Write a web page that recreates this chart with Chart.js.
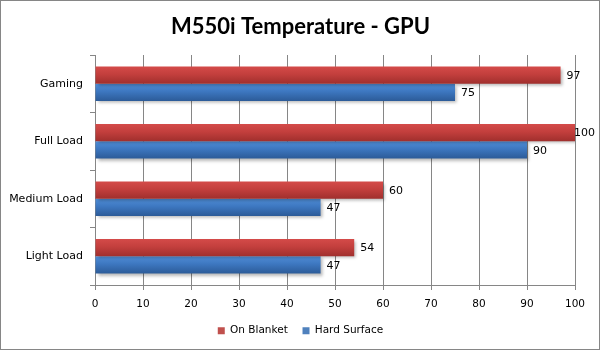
<!DOCTYPE html>
<html>
<head>
<meta charset="utf-8">
<script src="https://cdn.jsdelivr.net/npm/chart.js@4/dist/chart.umd.min.js"></script>
<style>
  html, body { margin: 0; padding: 0; background: #fff; }
  #wrap { width: 601px; height: 351px; position: relative; }
</style>
</head>
<body>
<div id="wrap"><canvas id="c" width="601" height="351"></canvas></div>
<script>
const categories = ["Gaming", "Full Load", "Medium Load", "Light Load"];
const onBlanket = [97, 100, 60, 54];
const hardSurface = [75, 90, 47, 47];
const xTicks = [0, 10, 20, 30, 40, 50, 60, 70, 80, 90, 100];
const seriesNames = ["On Blanket", "Hard Surface"];
const titleText = "M550i Temperature - GPU";

const CAT_PCT = 0.6;
const gradStops = [
  ['#d44b49', '#c33f3d', '#a02f2d'],
  ['#4f8dd6', '#3d77c0', '#2c5b98']
];
const solid = ['#c0504d', '#4f81bd'];

function barGradient(ctx) {
  const chart = ctx.chart;
  const ds = ctx.datasetIndex;
  if (!chart.chartArea || ctx.dataIndex === undefined) return solid[ds];
  const y = chart.scales.y;
  const c = y.getPixelForValue(ctx.dataIndex);
  const cat = y.height / categories.length;
  const h = cat * CAT_PCT / 2;
  const top = ds === 0 ? c - h : c;
  const g = chart.ctx.createLinearGradient(0, top, 0, top + h);
  const s = gradStops[ds];
  g.addColorStop(0, s[0]);
  g.addColorStop(0.45, s[1]);
  g.addColorStop(1, s[2]);
  return g;
}

const framePlugin = {
  id: 'frame',
  beforeDraw(chart) {
    const ctx = chart.ctx;
    ctx.save();
    ctx.fillStyle = '#ffffff';
    ctx.fillRect(0, 0, chart.width, chart.height);
    ctx.restore();
  },
  beforeDatasetsDraw(chart) {
    const ctx = chart.ctx;
    ctx.save();
    ctx.shadowColor = 'rgba(0,0,0,0.28)';
    ctx.shadowOffsetX = 2;
    ctx.shadowOffsetY = 2;
    ctx.shadowBlur = 3;
  },
  afterDatasetsDraw(chart) {
    const ctx = chart.ctx;
    ctx.restore();
    ctx.save();
    ctx.fillStyle = '#000';
    ctx.font = '11px "DejaVu Sans"';
    ctx.textAlign = 'left';
    ctx.textBaseline = 'middle';
    chart.data.datasets.forEach((d, i) => {
      const meta = chart.getDatasetMeta(i);
      meta.data.forEach((el, j) => {
        const txt = String(d.data[j]);
        const w = ctx.measureText(txt).width;
        const x = Math.min(el.x + 6, chart.width - 6 - w);
        ctx.fillText(txt, x, el.y + 1);
      });
    });
    ctx.restore();
  },
  afterDraw(chart) {
    const ctx = chart.ctx;
    ctx.save();
    ctx.strokeStyle = '#868686';
    ctx.lineWidth = 1;
    ctx.strokeRect(0.5, 0.5, chart.width - 2, chart.height - 2);
    ctx.restore();
  }
};

new Chart(document.getElementById('c'), {
  type: 'bar',
  data: {
    labels: categories,
    datasets: [
      { label: seriesNames[0], data: onBlanket, backgroundColor: barGradient, borderWidth: 0 },
      { label: seriesNames[1], data: hardSurface, backgroundColor: barGradient, borderWidth: 0 }
    ]
  },
  options: {
    indexAxis: 'y',
    responsive: false,
    animation: false,
    devicePixelRatio: 1,
    categoryPercentage: CAT_PCT,
    barPercentage: 1.0,
    layout: { padding: { left: 0, right: 0, top: 0, bottom: 5 } },
    plugins: {
      title: {
        display: true,
        text: titleText,
        color: '#000',
        font: { family: 'Lato', size: 22, weight: 'bold', lineHeight: 1.2 },
        padding: { top: 14, bottom: 14.6 }
      },
      legend: {
        position: 'bottom',
        labels: {
          boxWidth: 7,
          boxHeight: 7,
          padding: 14.75,
          color: '#000',
          font: { family: 'DejaVu Sans', size: 10.5 },
          generateLabels(chart) {
            return seriesNames.map((n, i) => ({
              text: n,
              fillStyle: solid[i],
              strokeStyle: solid[i],
              lineWidth: 0,
              datasetIndex: i,
              hidden: false
            }));
          }
        }
      },
      tooltip: { enabled: false }
    },
    scales: {
      x: {
        min: 0,
        max: 100,
        afterFit(scale) { scale.height = 25.75; },
        afterBuildTicks(scale) { scale.ticks = xTicks.map(v => ({ value: v })); },
        ticks: {
          color: '#000',
          padding: 8,
          font: { family: 'DejaVu Sans', size: 10.5 },
          maxRotation: 0
        },
        grid: { color: '#868686', lineWidth: 1, tickLength: 5, drawTicks: true },
        border: { color: '#868686', width: 1 }
      },
      y: {
        afterFit(scale) { scale.width = 95; },
        ticks: {
          color: '#000',
          padding: 7,
          font: { family: 'DejaVu Sans', size: 11 }
        },
        grid: { offset: true, drawOnChartArea: false, color: '#868686', tickLength: 5 },
        border: { color: '#868686', width: 1 }
      },
      pad: {
        type: 'linear',
        position: 'right',
        display: true,
        afterFit(scale) { scale.width = 26; },
        ticks: { display: false },
        grid: { display: false, drawTicks: false },
        border: { display: false }
      }
    }
  },
  plugins: [framePlugin]
});
</script>
</body>
</html>
